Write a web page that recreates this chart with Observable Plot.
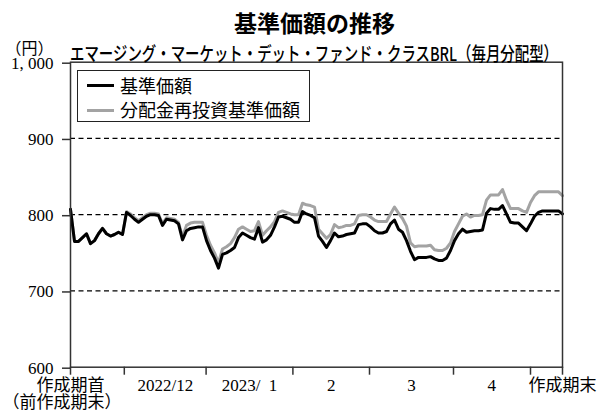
<!DOCTYPE html>
<html><head><meta charset="utf-8">
<script src="https://cdn.jsdelivr.net/npm/d3@7"></script>
<script src="https://cdn.jsdelivr.net/npm/@observablehq/plot@0.6"></script>
<style>
body{margin:0;background:#fff;}
#wrap{position:relative;width:602px;height:420px;overflow:hidden;font-family:"Noto Sans CJK JP",sans-serif;color:#000;}
#wrap > div{position:absolute;white-space:nowrap;}
#chart{left:0;top:0;}
#title{top:11px;left:314.5px;transform:translateX(-50%);font-size:23px;line-height:23px;font-weight:600;}
#subtitle{top:43px;left:70px;font-size:19px;line-height:19px;transform-origin:0 0;font-weight:500;}
#unit{top:39px;left:5.5px;font-size:16px;line-height:16px;}
#legendBox{left:77px;top:70px;width:233px;height:52px;box-sizing:border-box;border:1.5px solid #222;background:#fff;}
.sw{height:3px;width:27px;left:87px;}
.lt{font-size:18px;line-height:18px;left:120px;}
</style></head>
<body>
<div id="wrap">
  <div id="chart"></div>
  <div id="title"></div>
  <div id="subtitle"></div>
  <div id="unit"></div>
  <div id="legendBox"></div>
  <div class="sw" id="sw0" style="top:84.2px;background:#000;"></div>
  <div class="lt" id="lt0" style="top:76px;"></div>
  <div class="sw" id="sw1" style="top:108.5px;background:#a3a3a3;"></div>
  <div class="lt" id="lt1" style="top:100.3px;"></div>
</div>
<script>
// ---- texts ----
const titleText = "基準価額の推移";
const subtitleText = "エマージング・マーケット・デット・ファンド・クラスBRL（毎月分配型）";
const unitText = "（円）";
const seriesNames = ["基準価額", "分配金再投資基準価額"];

// ---- data (one value per business day, index 0 = 作成期首) ----
const navValues = [
 807,765,765,770,775,762,766,775,782,775,772,774,777,774,
 803,799,794,790,794,798,800,800,799,786,794,793,792,788,
 767,779,782,783,784,784,766,753,743,730,748,750,
 753,757,770,776,773,770,768,783,764,767,773,784,797,798,796,794,790,790,
 804,801,799,796,772,765,757,766,776,771,772,774,775,776,787,788,788,784,779,776,776,778,788,793,781,
 777,766,752,741,744,744,744,745,742,740,740,743,753,766,775,781,777,778,779,779,780,
 802,808,807,807,812,801,790,789,789,784,779,788,798,803,805,805,805,805,805,801
];
const reinvValues = [
 807,765,765,770,775,762,766,775,782,775,772,774,777,774,
 804,801,796,792,796,800,802,802,801,788,796,795,794,790,
 771,786,789,790,790,790,773,760,750,737,755,758,
 762,770,781,784,781,778,779,791,773,779,784,791,803,805,803,801,800,800,
 815,813,812,810,781,775,769,774,787,783,784,786,786,788,799,800,800,797,793,791,791,791,801,810,802,
 795,785,763,758,759,759,759,760,754,753,753,756,763,778,788,798,801,797,799,799,800,
 819,826,826,826,833,819,808,808,808,805,803,816,825,830,830,830,830,830,830,825
];

// ---- axes ----
const yTicks = [600, 700, 800, 900, 1000];
const yTickLabels = ["600", "700", "800", "900", "1, 000"];
const gridValues = [700, 800, 900];
const xTickPos = [0, 13.45, 33.9, 55.6, 74.75, 95.75, 115, 123];
const xLabelPos = [0, 23.7, 44.75, 65.2, 85.25, 105.3, 123];
const xLabelText = ["作成期首", "2022/12", "2023/\u20071", "2", "3", "4", "作成期末"];
const xSubLabelPos = [0];
const xSubLabelText = ["（前作成期末）"];

// ---- build ----
document.getElementById("title").textContent = titleText;
document.getElementById("unit").textContent = unitText;
document.getElementById("lt0").textContent = seriesNames[0];
document.getElementById("lt1").textContent = seriesNames[1];
const sub = document.getElementById("subtitle");
sub.textContent = subtitleText;
const w = sub.getBoundingClientRect().width;
sub.style.transform = `scaleX(${488 / w})`;

const data = navValues.map((v, i) => ({i, nav: v, reinv: reinvValues[i]}));
const labels = xLabelPos.map((x, k) => ({x, t: xLabelText[k]}));
const subLabels = xSubLabelPos.map((x, k) => ({x, t: xSubLabelText[k]}));
const font = "'Liberation Serif','Noto Sans CJK JP',serif";

const chart = Plot.plot({
  width: 602, height: 420,
  marginTop: 61.7, marginBottom: 53.3, marginLeft: 70, marginRight: 40,
  x: {domain: [0, navValues.length - 1], axis: null},
  y: {domain: [600, 1000], axis: null},
  style: {fontFamily: font, fontSize: "17px", color: "#000", background: "transparent", overflow: "visible"},
  marks: [
    Plot.ruleY(gridValues, {stroke: "#000", strokeWidth: 1.2, strokeDasharray: "5,3.5"}),
    Plot.line(data, {x: "i", y: "reinv", stroke: "#a3a3a3", strokeWidth: 3}),
    Plot.line(data, {x: "i", y: "nav", stroke: "#000", strokeWidth: 3}),
    Plot.frame({stroke: "#333", strokeWidth: 1.5}),
    Plot.axisY({ticks: yTicks, tickFormat: d => yTickLabels[yTicks.indexOf(d)], tickSize: 8, tickPadding: 9, stroke: "#333", strokeWidth: 1.5, fontSize: 17, fill: "#000", dy: 1}),
    Plot.axisX({ticks: xTickPos, tickFormat: () => "", tickSize: 8, stroke: "#333", strokeWidth: 1.5}),
    Plot.text(labels, {x: "x", text: "t", frameAnchor: "bottom", dy: 24, fontSize: 17, fill: "#000"}),
    Plot.text(subLabels, {x: "x", text: "t", frameAnchor: "bottom", dy: 40.5, dx: -8.5, fontSize: 17, fill: "#000"})
  ]
});
document.getElementById("chart").appendChild(chart);
</script>
</body></html>
